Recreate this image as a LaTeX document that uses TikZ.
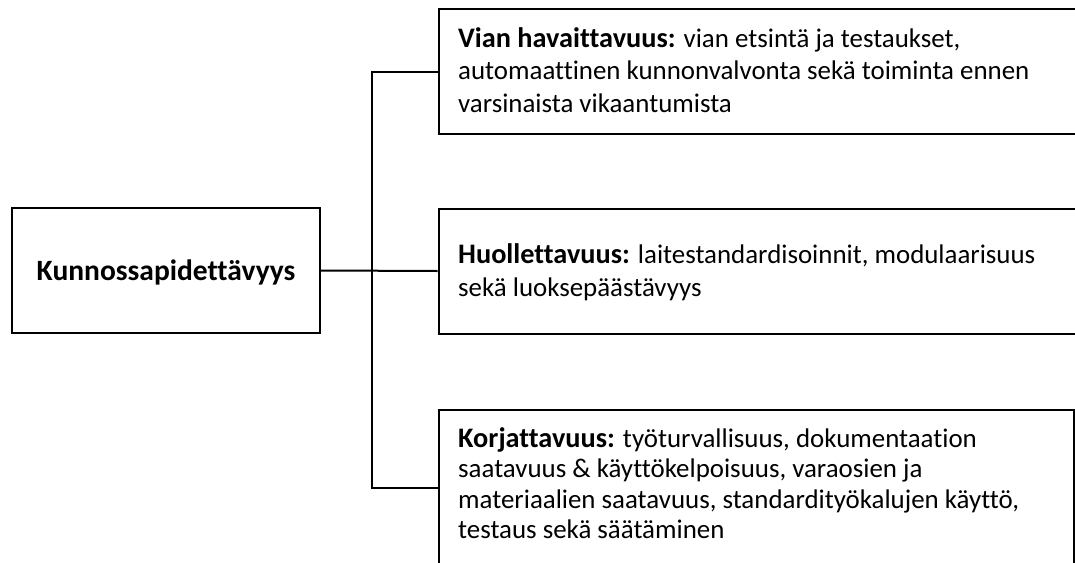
\documentclass[tikz,border=0pt]{standalone}
\usepackage{fontspec}
\setmainfont{Carlito}[Ligatures=NoCommon]
\newcommand{\hd}[1]{{\fontsize{28.3}{32.5}\selectfont\bfseries #1}}
\begin{document}
\begin{tikzpicture}[x=1pt,y=-1pt,
  box/.style={draw, line width=2pt, inner sep=0pt, anchor=north west},
  link/.style={line width=2pt},
  txt/.style={anchor=base west, inner sep=0pt, font=\fontsize{26.9}{32.5}\selectfont}]
\useasboundingbox (0,0) rectangle (1075,562);
% boxes
\node[box, minimum width=308pt, minimum height=125pt,
      font=\bfseries\fontsize{29.5}{32.5}\selectfont, text height=20pt, text depth=0pt]
      (root) at (11,207) {Kunnossapidettävyys};
\node[box, minimum width=650pt, minimum height=125pt] (top) at (437.5,8) {};
\node[box, minimum width=650pt, minimum height=125pt] (mid) at (437.5,207.5) {};
\node[box, minimum width=635pt, minimum height=155pt] (bot) at (437.5,409) {};
% texts
\node[txt] (toptxt) at (458,47) {\parbox[t]{610pt}{\raggedright\baselineskip=32.5pt
  \hd{Vian havaittavuus:} vian etsintä ja testaukset,\\
  automaattinen kunnonvalvonta sekä toiminta ennen\\
  varsinaista vikaantumista}};
\node[txt] (midtxt) at (458,263.5) {\parbox[t]{610pt}{\raggedright\baselineskip=33pt
  \hd{Huollettavuus:} laitestandardisoinnit, modulaarisuus\\
  sekä luoksepäästävyys}};
\node[txt] (bottxt) at (458,447) {\parbox[t]{600pt}{\raggedright\baselineskip=30.5pt
  \hd{Korjattavuus:} työturvallisuus, dokumentaation\\
  saatavuus \& käyttökelpoisuus, varaosien ja\\
  materiaalien saatavuus, standardityökalujen käyttö,\\
  testaus sekä säätäminen}};
% connectors
\draw[link] (root.east) -- (mid.west);
\draw[link] (top.west) -- ++(-65.5,0) coordinate (spine) |- (bot.west);
\end{tikzpicture}
\end{document}
